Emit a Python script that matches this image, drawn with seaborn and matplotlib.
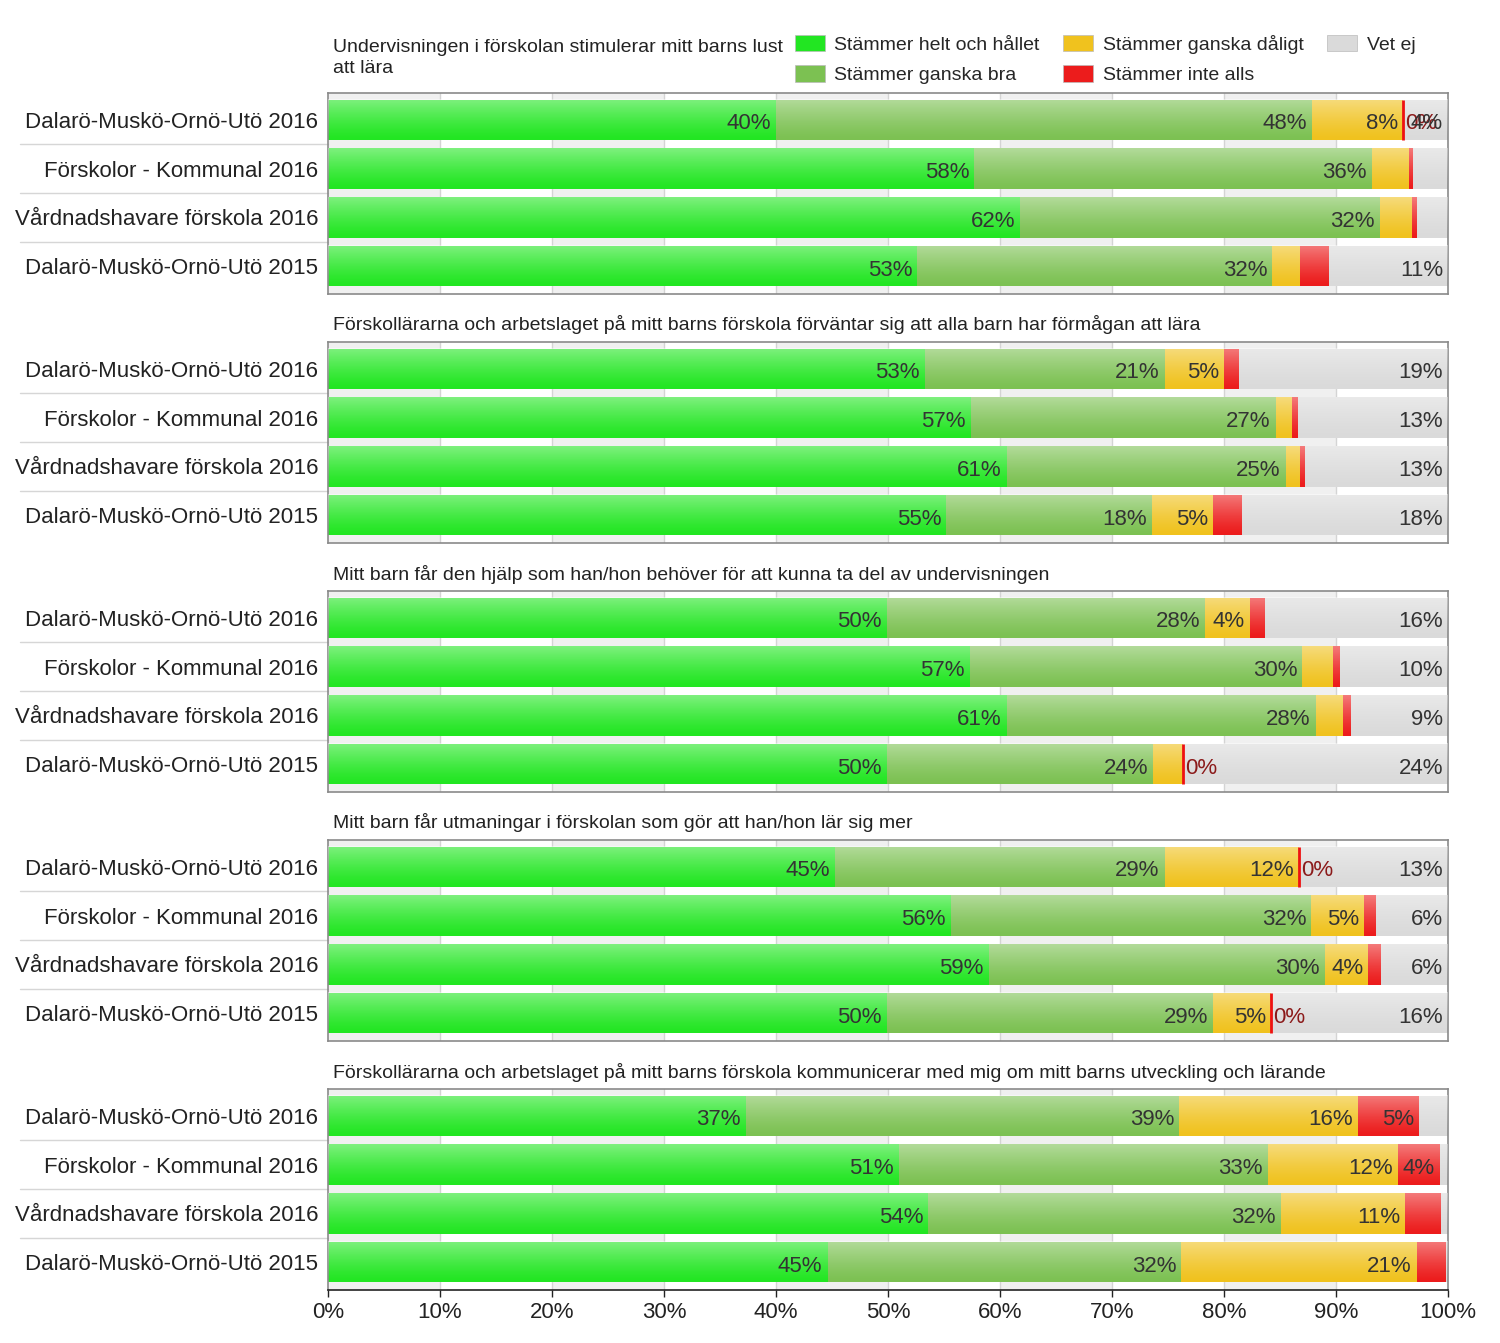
import numpy as np
import matplotlib.pyplot as plt
import matplotlib.patches as mpatches
from matplotlib.transforms import blended_transform_factory
import seaborn as sns

sns.set_theme(style="white")
plt.rcParams["font.family"] = ["Liberation Sans", "DejaVu Sans"]

# rows in each panel
groups = ["Dalarö-Muskö-Ornö-Utö 2016", "Förskolor - Kommunal 2016",
          "Vårdnadshavare förskola 2016", "Dalarö-Muskö-Ornö-Utö 2015"]

questions = [
    "Undervisningen i förskolan stimulerar mitt barns lust\natt lära",
    "Förskollärarna och arbetslaget på mitt barns förskola förväntar sig att alla barn har förmågan att lära",
    "Mitt barn får den hjälp som han/hon behöver för att kunna ta del av undervisningen",
    "Mitt barn får utmaningar i förskolan som gör att han/hon lär sig mer",
    "Förskollärarna och arbetslaget på mitt barns förskola kommunicerar med mig om mitt barns utveckling och lärande",
]

categories = ["Stämmer helt och hållet", "Stämmer ganska bra", "Stämmer ganska dåligt",
              "Stämmer inte alls", "Vet ej"]
colors = ["#22e622", "#7cc152", "#f0c21e", "#ec1c1c", "#dadada"]

# percentages, one list per question (rows in the order of `groups`)
helt = [[40.0, 57.7, 61.8, 52.6],
        [53.3, 57.4, 60.6, 55.2],
        [49.9, 57.3, 60.6, 49.9],
        [45.3, 55.6, 59.0, 49.9],
        [37.3, 51.0, 53.6, 44.6]]
bra = [[47.9, 35.5, 32.1, 31.7],
       [21.4, 27.2, 24.9, 18.4],
       [28.4, 29.7, 27.6, 23.8],
       [29.4, 32.2, 30.0, 29.1],
       [38.7, 32.9, 31.5, 31.6]]
daligt = [[8.1, 3.3, 2.9, 2.5],
          [5.3, 1.5, 1.3, 5.4],
          [4.0, 2.7, 2.4, 2.6],
          [12.0, 4.7, 3.9, 5.2],
          [16.0, 11.6, 11.1, 21.0]]
inte = [[0.0, 0.35, 0.4, 2.6],
        [1.3, 0.5, 0.4, 2.6],
        [1.4, 0.7, 0.7, 0.0],
        [0.0, 1.1, 1.1, 0.0],
        [5.4, 3.8, 3.2, 2.6]]
vetej = [[4.0, 3.15, 2.8, 10.6],
         [18.7, 13.4, 12.8, 18.4],
         [16.3, 9.6, 8.7, 23.7],
         [13.3, 6.4, 6.0, 15.8],
         [2.6, 0.7, 0.6, 0.2]]

W, H = 1500, 1343
fig = plt.figure(figsize=(W / 100, H / 100), dpi=100)

left, width = 328 / W, 1120 / W
panel_h = 201
tops = [93 + 249 * i for i in range(5)]
bar_w = 0.83

# white gloss gradient (top lighter), used as an overlay on each bar
grad = np.ones((64, 2, 4))
grad[:, :, 3] = (0.42 * np.linspace(1, 0, 64) ** 1.3)[:, None]

for i, q in enumerate(questions):
    ax = fig.add_axes([left, 1 - (tops[i] + panel_h) / H, width, panel_h / H])
    series = [helt[i], bra[i], daligt[i], inte[i], vetej[i]]
    cum = np.cumsum(np.array(series), axis=0)

    # alternating bands and grid
    for b in range(0, 100, 20):
        ax.axvspan(b, b + 10, color="#f0f0f0", zorder=0, lw=0)
    for g in range(10, 100, 10):
        ax.axvline(g, color="#d4d4d4", lw=1, zorder=0.5)

    # stacked bars: draw widest cumulative first
    for k in reversed(range(5)):
        sns.barplot(x=cum[k], y=groups, orient="h", color=colors[k], saturation=1,
                    width=bar_w, linewidth=0, ax=ax, zorder=2)

    for r in range(4):
        ax.imshow(grad, extent=(0, cum[-1][r], r + bar_w / 2, r - bar_w / 2),
                  aspect="auto", interpolation="bilinear", zorder=3)

    # value labels
    for r in range(4):
        for k in range(5):
            v = series[k][r]
            end = cum[k][r]
            if v >= 3.5:
                ax.text(end - 0.45, r + 0.08, f"{v:.0f}%", ha="right", va="center",
                        fontsize=16, color="#333333", zorder=5)
            elif k == 3 and v == 0:
                ax.vlines(end, r - bar_w / 2, r + bar_w / 2, color="#ee1111", lw=2, zorder=4)
                ax.text(end + 0.2, r + 0.08, "0%", ha="left", va="center",
                        fontsize=16, color="#8b1a1a", zorder=5)

    ax.set_xlim(0, 100)
    ax.set_ylim(3.57, -0.55)
    ax.set_aspect("auto")
    ax.set_xlabel("")
    ax.set_ylabel("")
    ax.tick_params(axis="y", length=0, pad=7, labelsize=16, labelcolor="#222222")
    for s in ax.spines.values():
        s.set_color("#8a8a8a")
        s.set_linewidth(1.2)

    # separators between row labels
    tr = blended_transform_factory(ax.transAxes, ax.transData)
    for yb in [0.5, 1.5, 2.5]:
        ax.plot([-0.275, 0], [yb, yb], transform=tr, color="#d6d6d6", lw=1, clip_on=False)

    ax.set_xticks(range(0, 101, 10))
    if i == 4:
        ax.set_xticklabels([f"{t}%" for t in range(0, 101, 10)])
        ax.tick_params(axis="x", bottom=True, length=5, width=1, color="#222222",
                       labelsize=16, labelcolor="#222222", pad=4)
        ax.spines["bottom"].set_color("#222222")
    else:
        ax.tick_params(axis="x", bottom=False, labelbottom=False)

    # question title
    if i == 0:
        fig.text(333 / W, 1 - 58 / H, q, ha="left", va="center", fontsize=14,
                 color="#222222", linespacing=1.3)
    else:
        fig.text(333 / W, 1 - (tops[i] - 17) / H, q, ha="left", va="center",
                 fontsize=14, color="#222222")

handles = [mpatches.Patch(facecolor=c, edgecolor="#bbbbbb", lw=0.5) for c in colors]
fig.legend(handles, categories, ncol=3, loc="upper left",
           bbox_to_anchor=(779 / W, 1 - 19 / H), frameon=False, fontsize=14,
           handlelength=1.55, handleheight=0.95, handletextpad=0.5,
           columnspacing=1.2, labelspacing=0.6, borderpad=0.3)

fig.savefig("out.png", dpi=100)
